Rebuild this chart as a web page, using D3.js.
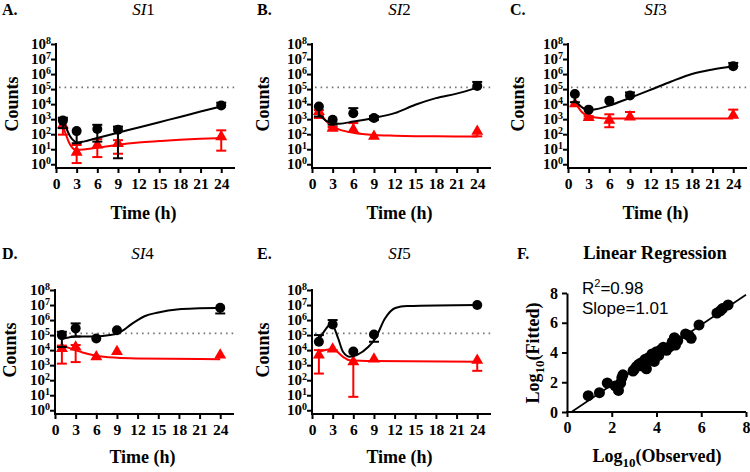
<!DOCTYPE html>
<html><head><meta charset="utf-8">
<script src="https://cdn.jsdelivr.net/npm/d3@7"></script>
<style>
html,body{margin:0;padding:0;background:#fff;}
svg{display:block;}
</style></head>
<body>
<svg id="chart" width="750" height="472"></svg>
<script>
// ---------------- DATA ----------------
const times = [1, 3, 6, 9, 24];
const xTicks = [0, 3, 6, 9, 12, 15, 18, 21, 24];
const yTickExps = [0, 1, 2, 3, 4, 5, 6, 7, 8];
const threshold = 1.3e5;

// Panel A (SI1)
const A_black = [8e2, 1.6e2, 2.2e2, 2e2, 8e3];
const A_blackLo = [2.5e2, 25, 32, 2.5, 8e3];
const A_blackHi = [1.25e3, 1.6e2, 4.2e2, 3.2e2, 1.25e4];
const A_red = [4e2, 6.3, 19, 24, 68];
const A_redLo = [93, 1.2, 3, 5, 8];
const A_redHi = [1e3, 19, 47, 40, 180];
const A_blackFitT = [1, 1.5, 2, 2.5, 3, 4, 6, 9, 12, 15, 18, 21, 24];
const A_blackFit = [8.9e2, 2.5e2, 80, 40, 28, 32, 56, 126, 280, 630, 1.4e3, 3.2e3, 7e3];
const A_redFitT = [1, 1.5, 2, 2.5, 3, 4, 6, 9, 12, 15, 18, 21, 24];
const A_redFit = [3.5e2, 80, 22, 11, 9, 9.5, 12.6, 20, 28, 35, 43, 50, 56];

// Panel B (SI2)
const B_black = [7e3, 9e2, 2.5e3, 1.2e3, 1.6e5];
const B_blackLo = [1.5e3, 4.3e2, 2.5e3, 9e2, 1.6e5];
const B_blackHi = [7e3, 9e2, 5.4e3, 1.6e3, 3e5];
const B_red = [3.2e3, 2.5e2, 2e2, 72, 1.55e2];
const B_redLo = [1.2e3, 2e2, 2e2, 72, 72];
const B_redHi = [4e3, 3e2, 5.5e2, 72, 1.55e2];
const B_blackFitT = [1, 1.5, 2, 3, 4, 6, 9, 12, 15, 18, 21, 24];
const B_blackFit = [2e3, 1.26e3, 8e2, 5.6e2, 5e2, 7e2, 1.2e3, 2.5e3, 9e3, 2.5e4, 5e4, 1.26e5];
const B_redFitT = [1, 1.5, 2, 3, 4, 6, 9, 12, 15, 18, 24];
const B_redFit = [3.5e3, 1.6e3, 8e2, 3.2e2, 2e2, 1.26e2, 89, 79, 74, 72, 71];

// Panel C (SI3)
const C_black = [4.7e4, 4.3e3, 1.7e4, 3.7e4, 3.3e6];
const C_blackLo = [1.35e4, 4.3e3, 1.7e4, 3.7e4, 3.3e6];
const C_blackHi = [4.7e4, 4.3e3, 1.7e4, 6e4, 5.5e6];
const C_red = [1.05e4, 1.3e3, 8.5e2, 1.4e3, 1.8e3];
const C_redLo = [1.05e4, 1.1e3, 2.9e2, 1.4e3, 1.8e3];
const C_redHi = [1.05e4, 1.6e3, 2.1e3, 3e3, 4.3e3];
const C_blackFitT = [1, 1.5, 2, 3, 4, 6, 9, 12, 15, 18, 21, 24];
const C_blackFit = [1.6e4, 1e4, 6.3e3, 3.9e3, 4.5e3, 8e3, 2.6e4, 9e4, 3.2e5, 1e6, 2e6, 3.3e6];
const C_redFitT = [1, 1.5, 2, 3, 4, 6, 9, 24];
const C_redFit = [1.35e4, 6e3, 3e3, 1.6e3, 1.3e3, 1.12e3, 1.1e3, 1.1e3];

// Panel D (SI4)
const D_black = [1e5, 2.8e5, 6e4, 2.1e5, 6.6e6];
const D_blackLo = [1.6e4, 8e4, 6e4, 2.1e5, 2.75e6];
const D_blackHi = [1.66e5, 6e5, 6e4, 2.1e5, 6.6e6];
const D_red = [1.26e4, 1.6e4, 3.6e3, 8e3, 4.7e3];
const D_redLo = [1.26e3, 1.6e3, 3.6e3, 8e3, 4.7e3];
const D_redHi = [2e4, 2.2e4, 3.6e3, 8e3, 4.7e3];
const D_blackFitT = [1, 2, 3, 6, 8, 9, 10, 11, 12, 13, 15, 18, 21, 24];
const D_blackFit = [6e4, 7e4, 8e4, 8e4, 1e5, 1.26e5, 2.2e5, 5e5, 1e6, 1.8e6, 3.2e6, 5.2e6, 6e6, 6.6e6];
const D_redFitT = [1, 2, 3, 4, 6, 9, 12, 24];
const D_redFit = [2.1e4, 1.4e4, 1e4, 7e3, 4.2e3, 3.1e3, 2.8e3, 2.5e3];

// Panel E (SI5)
const E_black = [3.6e4, 5.1e5, 8e3, 1.1e5, 1e7];
const E_blackLo = [3.6e4, 5.1e5, 8e3, 3.6e4, 1e7];
const E_blackHi = [1e5, 1e6, 8e3, 1.1e5, 1e7];
const E_red = [4.7e3, 1.17e4, 1.66e3, 2.5e3, 2.1e3];
const E_redLo = [2.75e2, 1e4, 7.8, 2.5e3, 4.2e2];
const E_redHi = [1e4, 1.17e4, 1.66e3, 2.5e3, 2.1e3];
const E_blackFitT = [1, 2, 2.8, 3.8, 4.5, 5.5, 6.5, 8.2, 9.2, 10.6, 12.1, 13.8, 24];
const E_blackFit = [4.7e4, 2.5e5, 6e5, 6e4, 7.8e3, 3.6e3, 4.7e3, 1.66e4, 6e4, 1.26e6, 6.3e6, 8.5e6, 1e7];
const E_redFitT = [1, 3, 4.5, 5.5, 9, 24];
const E_redFit = [7.8e3, 1.17e4, 3.6e3, 2.1e3, 1.86e3, 1.66e3];

// Panel F (linear regression)
const F_observed = [0.95, 1.45, 1.8, 2.15, 2.3, 2.45, 2.5, 2.4, 2.95, 3.0, 3.1, 3.2, 3.3, 3.35, 3.45, 3.5, 3.55, 3.6, 3.7, 3.75, 3.8, 3.85, 3.9, 3.95, 4.0, 4.1, 4.2, 4.3, 4.45, 4.6, 4.7, 4.8, 4.85, 4.95, 5.3, 5.45, 5.55, 5.9, 6.7, 6.85, 6.95, 7.2];
const F_fitted = [1.1, 1.3, 1.95, 1.75, 1.45, 2.3, 2.5, 1.95, 2.75, 2.85, 3.05, 3.2, 3.3, 3.1, 3.45, 3.55, 2.9, 3.6, 3.7, 3.5, 3.9, 3.75, 3.4, 3.9, 4.05, 3.8, 4.2, 4.35, 4.15, 4.4, 4.7, 5.0, 4.5, 4.8, 5.25, 5.15, 4.95, 5.85, 6.65, 6.8, 6.95, 7.2];
const F_ticks = [0, 2, 4, 6, 8];
const F_slope = 1.01;
const F_intercept = -0.2;
const F_r2 = "0.98";

// ---------------- DRAW ----------------
const svg = d3.select("#chart");
const SERIF = "'Liberation Serif','Times New Roman',serif";
const SANS = "'Liberation Sans',Arial,sans-serif";

const panels = [
  {letter: "A.", num: "1", d: [A_black, A_blackLo, A_blackHi, A_red, A_redLo, A_redHi, A_blackFitT, A_blackFit, A_redFitT, A_redFit],
   x0: 56, x1: 235, yTop: 44, yBot: 168, row: 0, lx: 2, ylab: 12},
  {letter: "B.", num: "2", d: [B_black, B_blackLo, B_blackHi, B_red, B_redLo, B_redHi, B_blackFitT, B_blackFit, B_redFitT, B_redFit],
   x0: 312, x1: 491, yTop: 44, yBot: 168, row: 0, lx: 257, ylab: 263},
  {letter: "C.", num: "3", d: [C_black, C_blackLo, C_blackHi, C_red, C_redLo, C_redHi, C_blackFitT, C_blackFit, C_redFitT, C_redFit],
   x0: 568, x1: 747, yTop: 44, yBot: 168, row: 0, lx: 510, ylab: 518},
  {letter: "D.", num: "4", d: [D_black, D_blackLo, D_blackHi, D_red, D_redLo, D_redHi, D_blackFitT, D_blackFit, D_redFitT, D_redFit],
   x0: 55, x1: 234, yTop: 290, yBot: 414, row: 1, lx: 2, ylab: 10},
  {letter: "E.", num: "5", d: [E_black, E_blackLo, E_blackHi, E_red, E_redLo, E_redHi, E_blackFitT, E_blackFit, E_redFitT, E_redFit],
   x0: 312, x1: 491, yTop: 290, yBot: 414, row: 1, lx: 257, ylab: 263}
];

function drawTimePanel(p) {
  const g = svg.append("g");
  const x = d3.scaleLinear().domain([0, 26]).range([p.x0, p.x1]);
  const y = d3.scaleLog().domain([Math.pow(10, -0.25), 1e8]).range([p.yBot, p.yTop]);
  const [bk, bkLo, bkHi, rd, rdLo, rdHi, bfT, bf, rfT, rf] = p.d;

  // axes
  const yAx = g.append("g").attr("transform", `translate(${p.x0},0)`)
    .call(d3.axisLeft(y).tickValues(yTickExps.map(e => Math.pow(10, e))).tickFormat("").tickSize(5).tickSizeOuter(0));
  yAx.selectAll("path,line").attr("stroke", "#000").attr("stroke-width", 2);
  yAx.select(".domain").attr("d", `M0,${p.yTop - 1}V${p.yBot}`);
  yTickExps.forEach(e => {
    const t = g.append("text").attr("x", p.x0 - 5).attr("y", y(Math.pow(10, e)) + 5)
      .attr("text-anchor", "end").attr("font-family", SERIF).attr("font-weight", "bold").attr("font-size", 15);
    t.append("tspan").text("10");
    t.append("tspan").attr("dy", -5).attr("font-size", 10).text(String(e));
  });

  const xAx = g.append("g").attr("transform", `translate(0,${p.yBot})`)
    .call(d3.axisBottom(x).tickValues(xTicks).tickSize(5).tickSizeOuter(0).tickPadding(5));
  xAx.selectAll("path,line").attr("stroke", "#000").attr("stroke-width", 2);
  xAx.select(".domain").attr("d", `M${p.x0 - 1},0H${p.x1}`);
  xAx.selectAll("text").attr("font-family", SERIF).attr("font-weight", "bold").attr("font-size", 15.5).attr("fill", "#000");

  // threshold dotted line
  g.append("line").attr("x1", x(0) + 3).attr("x2", p.x1).attr("y1", y(threshold)).attr("y2", y(threshold))
    .attr("stroke", "#777").attr("stroke-width", 1.6).attr("stroke-dasharray", "1.6,4");

  const line = d3.line().x(d => x(d[0])).y(d => y(d[1])).curve(d3.curveMonotoneX);

  function series(vals, lo, hi, fitT, fit, color, shape) {
    g.append("path").datum(fitT.map((t, i) => [t, fit[i]])).attr("d", line)
      .attr("fill", "none").attr("stroke", color).attr("stroke-width", 2);
    times.forEach((t, i) => {
      const cx = x(t);
      if (hi[i] > vals[i] || lo[i] < vals[i]) {
        g.append("line").attr("x1", cx).attr("x2", cx).attr("y1", y(lo[i])).attr("y2", y(hi[i]))
          .attr("stroke", color).attr("stroke-width", 2);
        if (hi[i] > vals[i]) g.append("line").attr("x1", cx - 5).attr("x2", cx + 5).attr("y1", y(hi[i])).attr("y2", y(hi[i])).attr("stroke", color).attr("stroke-width", 2);
        if (lo[i] < vals[i]) g.append("line").attr("x1", cx - 5).attr("x2", cx + 5).attr("y1", y(lo[i])).attr("y2", y(lo[i])).attr("stroke", color).attr("stroke-width", 2);
      }
    });
    times.forEach((t, i) => {
      if (shape === "circle") {
        g.append("circle").attr("cx", x(t)).attr("cy", y(vals[i])).attr("r", 5).attr("fill", color);
      } else {
        g.append("path").attr("d", d3.symbol().type(d3.symbolTriangle).size(62)())
          .attr("transform", `translate(${x(t)},${y(vals[i])})`).attr("fill", color);
      }
    });
  }
  series(rd, rdLo, rdHi, rfT, rf, "#ff0000", "triangle");
  series(bk, bkLo, bkHi, bfT, bf, "#000", "circle");

  // labels
  const cx = (p.x0 + p.x1) / 2 - 2;
  const titleY = p.row === 0 ? 15 : 259;
  const tt = g.append("text").attr("x", cx).attr("y", titleY).attr("text-anchor", "middle")
    .attr("font-family", SERIF).attr("font-size", 17);
  tt.append("tspan").attr("font-style", "italic").text("SI");
  tt.append("tspan").text(p.num);
  g.append("text").attr("x", p.lx).attr("y", titleY).attr("font-family", SERIF).attr("font-weight", "bold").attr("font-size", 16).text(p.letter);

  g.append("text").attr("transform", `translate(${p.ylab + 6},${(p.yTop + p.yBot) / 2 - 2}) rotate(-90)`)
    .attr("text-anchor", "middle").attr("font-family", SERIF).attr("font-weight", "bold").attr("font-size", 18).text("Counts");
  g.append("text").attr("x", cx).attr("y", p.row === 0 ? 219 : 463).attr("text-anchor", "middle")
    .attr("font-family", SERIF).attr("font-weight", "bold").attr("font-size", 18).text("Time (h)");
}
panels.forEach(drawTimePanel);

// Panel F
(function () {
  const g = svg.append("g");
  const x0 = 567, x1 = 746, yTop = 293, yBot = 412;
  const x = d3.scaleLinear().domain([0, 8]).range([x0, x1]);
  const y = d3.scaleLinear().domain([0, 8]).range([yBot, yTop]);

  const yAx = g.append("g").attr("transform", `translate(${x0},0)`)
    .call(d3.axisLeft(y).tickValues(F_ticks).tickSize(5).tickSizeOuter(0).tickPadding(4));
  yAx.selectAll("path,line").attr("stroke", "#000").attr("stroke-width", 2);
  yAx.selectAll("text").attr("font-family", SERIF).attr("font-weight", "bold").attr("font-size", 16).attr("fill", "#000");
  const xAx = g.append("g").attr("transform", `translate(0,${yBot})`)
    .call(d3.axisBottom(x).tickValues(F_ticks).tickSize(5).tickSizeOuter(0).tickPadding(5));
  xAx.selectAll("path,line").attr("stroke", "#000").attr("stroke-width", 2);
  xAx.selectAll("text").attr("font-family", SERIF).attr("font-weight", "bold").attr("font-size", 16).attr("fill", "#000");
  xAx.select(".domain").attr("d", `M${x0 - 1},0H${x1}`);

  const xStart = -F_intercept / F_slope;
  g.append("line").attr("x1", x(xStart)).attr("y1", y(0)).attr("x2", x(8)).attr("y2", y(F_slope * 8 + F_intercept))
    .attr("stroke", "#000").attr("stroke-width", 1.6);

  F_observed.forEach((o, i) => {
    g.append("circle").attr("cx", x(o)).attr("cy", y(F_fitted[i])).attr("r", 5.5).attr("fill", "#000");
  });

  const r = g.append("text").attr("x", 582).attr("y", 294).attr("font-family", SANS).attr("font-size", 17);
  r.append("tspan").text("R");
  r.append("tspan").attr("dy", -7).attr("font-size", 11).text("2");
  r.append("tspan").attr("dy", 7).text("=" + F_r2);
  g.append("text").attr("x", 582).attr("y", 314).attr("font-family", SANS).attr("font-size", 17).text("Slope=" + F_slope.toFixed(2));

  g.append("text").attr("x", 655).attr("y", 259).attr("text-anchor", "middle").attr("font-family", SERIF).attr("font-weight", "bold").attr("font-size", 18.5).text("Linear Regression");
  g.append("text").attr("x", 517).attr("y", 259).attr("font-family", SERIF).attr("font-weight", "bold").attr("font-size", 16).text("F.");

  const yl = g.append("text").attr("transform", `translate(539,353) rotate(-90)`).attr("text-anchor", "middle")
    .attr("font-family", SERIF).attr("font-weight", "bold").attr("font-size", 18);
  yl.append("tspan").text("Log");
  yl.append("tspan").attr("dy", 5).attr("font-size", 13).text("10");
  yl.append("tspan").attr("dy", -5).text("(Fitted)");
  const xl = g.append("text").attr("x", 657).attr("y", 462).attr("text-anchor", "middle")
    .attr("font-family", SERIF).attr("font-weight", "bold").attr("font-size", 18);
  xl.append("tspan").text("Log");
  xl.append("tspan").attr("dy", 5).attr("font-size", 13).text("10");
  xl.append("tspan").attr("dy", -5).text("(Observed)");
})();
</script>
</body></html>
